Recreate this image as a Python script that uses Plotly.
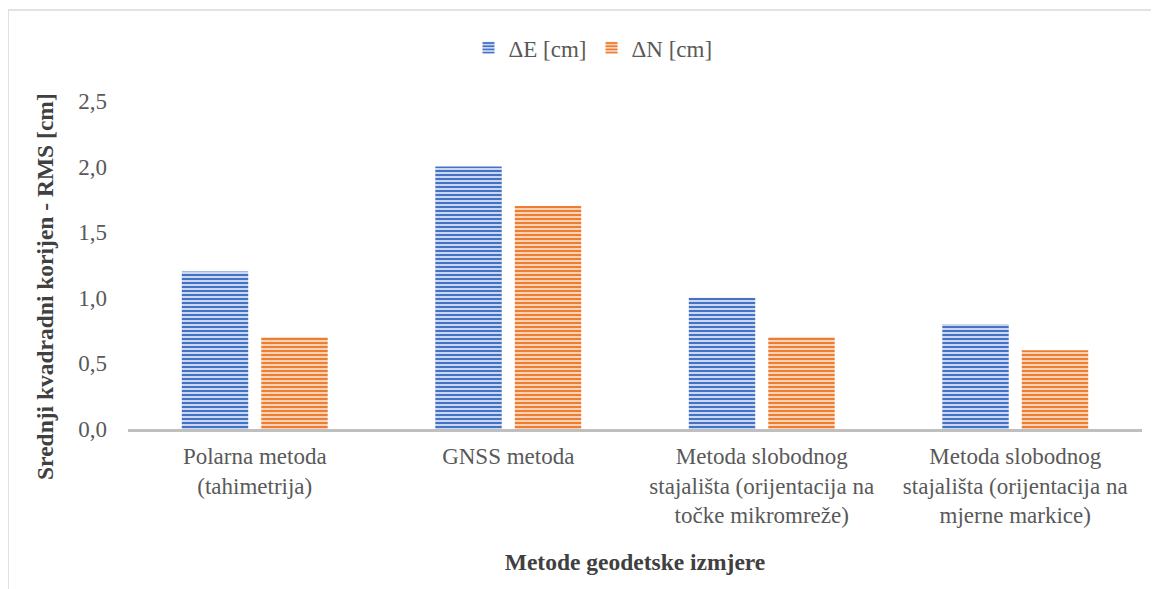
import plotly.graph_objects as go

categories = ["Polarna metoda<br>(tahimetrija)", "GNSS metoda",
              "Metoda slobodnog<br>stajališta (orijentacija na<br>točke mikromreže)",
              "Metoda slobodnog<br>stajališta (orijentacija na<br>mjerne markice)"]
delta_e = [1.2, 2.0, 1.0, 0.8]
delta_n = [0.7, 1.7, 0.7, 0.6]
tick_vals = [0, 0.5, 1.0, 1.5, 2.0, 2.5]
tick_text = ["0,0", "0,5", "1,0", "1,5", "2,0", "2,5"]
y_title = "Srednji kvadradni korijen - RMS [cm]"
x_title = "Metode geodetske izmjere"

font = "Liberation Serif"

fig = go.Figure()
fig.add_trace(go.Bar(
    x=categories, y=delta_e, name="ΔE [cm]",
    marker=dict(color="#4472C4", line=dict(width=0),
                pattern=dict(shape="-", fgcolor="#4472C4", bgcolor="#CAD7EF",
                             size=4, solidity=0.5, fillmode="replace")),
))
fig.add_trace(go.Bar(
    x=categories, y=delta_n, name="ΔN [cm]",
    marker=dict(color="#ED7D31", line=dict(width=0),
                pattern=dict(shape="-", fgcolor="#ED7D31", bgcolor="#F9D2B8",
                             size=4, solidity=0.5, fillmode="replace")),
))

fig.update_layout(
    width=1151, height=581,
    margin=dict(l=120, r=17, t=93, b=160),
    paper_bgcolor="white", plot_bgcolor="white",
    font=dict(family=font, size=23, color="#595959"),
    barmode="group", bargap=0.373, bargroupgap=0.164,
    legend=dict(orientation="h", x=0.4586, xanchor="center", y=1.162, yanchor="middle",
                font=dict(family=font, size=23, color="#595959"), itemwidth=30),
    xaxis=dict(showline=True, linecolor="#BFBFBF", linewidth=3, ticks="",
               tickfont=dict(family=font, size=23, color="#595959"),
               ticklabelstandoff=4,
               title=dict(text="<b>" + x_title + "</b>", standoff=27,
                          font=dict(family=font, size=23.5, color="#404040"))),
    yaxis=dict(range=[0, 2.5], tickvals=tick_vals, ticktext=tick_text,
               showgrid=False, zeroline=False, showline=False,
               tickfont=dict(family=font, size=23, color="#595959"), ticks="",
               ticklabelstandoff=20),
    annotations=[dict(text="<b>" + y_title + "</b>", xref="paper", yref="paper",
                      x=-0.0819, y=0.436, textangle=-90, showarrow=False,
                      xanchor="center", yanchor="middle",
                      font=dict(family=font, size=23.5, color="#404040"))],
    shapes=[
        dict(type="line", xref="paper", yref="paper", x0=-0.1183, x1=1.03,
             y0=1.2774, y1=1.2774, line=dict(color="#D9D9D9", width=1.5)),
        dict(type="line", xref="paper", yref="paper", x0=-0.1183, x1=-0.1183,
             y0=1.2774, y1=-0.49, line=dict(color="#D9D9D9", width=1.5)),
    ],
)

fig.write_html("out.html")
